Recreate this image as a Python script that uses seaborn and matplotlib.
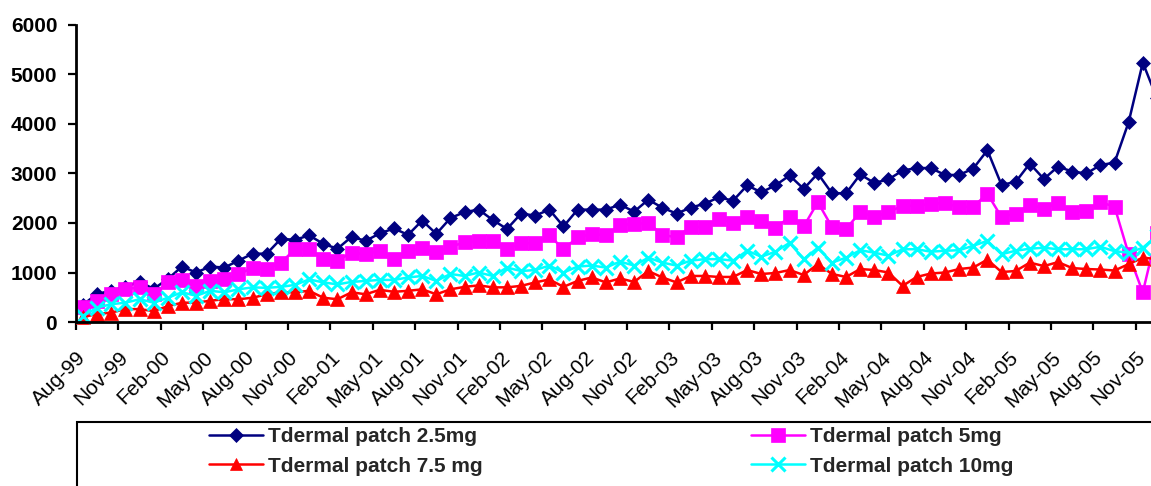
import matplotlib
matplotlib.use("Agg")
import matplotlib.pyplot as plt
import matplotlib.transforms as mtransforms
from matplotlib.lines import Line2D
from matplotlib.patches import Rectangle
import numpy as np
import pandas as pd
import seaborn as sns

# Monthly prescriptions by patch strength, Aug 1999 - Dec 2005
months = pd.date_range("1999-08-01", periods=77, freq="MS").strftime("%b-%y").tolist()

patch_2_5mg = [
    350, 570, 630, 710, 810, 670, 870, 1120, 1000, 1120, 1100, 1240, 1380, 1380,
    1680, 1660, 1750, 1580, 1480, 1720, 1640, 1790, 1890, 1760, 2050, 1780, 2100,
    2220, 2270, 2060, 1880, 2190, 2150, 2270, 1930, 2270, 2270, 2270, 2370, 2230,
    2470, 2310, 2190, 2310, 2390, 2520, 2450, 2760, 2620, 2760, 2960, 2690, 3000,
    2600, 2600, 2980, 2810, 2880, 3060, 3110, 3110, 2970, 2970, 3100, 3470, 2770,
    2830, 3200, 2890, 3140, 3040, 3000, 3170, 3220, 4040, 5240, 4520,
]
patch_5mg = [
    300, 430, 560, 660, 700, 560, 800, 850, 730, 830, 860, 960, 1100, 1070,
    1200, 1470, 1470, 1270, 1240, 1400, 1370, 1440, 1270, 1440, 1490, 1410, 1520,
    1610, 1630, 1640, 1470, 1590, 1590, 1750, 1470, 1710, 1780, 1750, 1960, 1980,
    2000, 1760, 1710, 1920, 1920, 2080, 2010, 2120, 2040, 1900, 2120, 1930, 2420,
    1920, 1880, 2220, 2120, 2220, 2350, 2350, 2390, 2400, 2320, 2330, 2590, 2120,
    2190, 2370, 2290, 2400, 2220, 2250, 2420, 2330, 1370, 600, 1800,
]
patch_7_5mg = [
    100, 160, 190, 260, 260, 220, 320, 390, 390, 430, 460, 460, 490, 560,
    600, 600, 630, 490, 460, 600, 560, 650, 610, 630, 660, 560, 660,
    710, 740, 700, 700, 730, 800, 860, 710, 830, 900, 800, 880, 810,
    1030, 900, 800, 930, 930, 910, 910, 1050, 970, 990, 1050, 950, 1170,
    970, 910, 1070, 1050, 1000, 730, 910, 980, 1000, 1070, 1100, 1260, 1010,
    1030, 1200, 1130, 1210, 1090, 1070, 1060, 1040, 1170, 1300, 1270,
]
patch_10mg = [
    130, 290, 360, 390, 460, 390, 490, 600, 530, 630, 600, 660, 700, 690,
    710, 750, 860, 800, 760, 810, 830, 850, 850, 900, 930, 830, 970,
    930, 1000, 930, 1100, 1030, 1050, 1140, 1000, 1120, 1140, 1100, 1220, 1140,
    1300, 1200, 1140, 1240, 1270, 1270, 1240, 1440, 1320, 1420, 1600, 1270, 1500,
    1200, 1300, 1450, 1400, 1340, 1470, 1470, 1420, 1440, 1450, 1540, 1640, 1370,
    1440, 1480, 1500, 1470, 1470, 1470, 1520, 1430, 1400, 1500, 1740,
]

series_labels = ["Tdermal patch 2.5mg", "Tdermal patch 5mg",
                 "Tdermal patch 7.5 mg", "Tdermal patch 10mg"]
series_values = [patch_2_5mg, patch_5mg, patch_7_5mg, patch_10mg]
y_ticks = [0, 1000, 2000, 3000, 4000, 5000, 6000]

colors = ["#000080", "#FF00FF", "#FF0000", "#00FFFF"]
markers = ["D", "s", "^", "x"]
msizes = [7.5, 10.5, 9.5, 10.0]
FS = 15

sns.set_style("white")
plt.rcParams["font.family"] = ["Liberation Sans", "DejaVu Sans"]

W, H = 1151, 486
fig = plt.figure(figsize=(W / 100, H / 100), dpi=100)

# plot area in pixel coordinates (extends past the right edge of the canvas)
ax_left, ax_right, ax_top, ax_bottom = 76, 1164, 25, 322
ax = fig.add_axes([ax_left / W, 1 - ax_bottom / H,
                   (ax_right - ax_left) / W, (ax_bottom - ax_top) / H])

x = np.arange(len(months))
for vals, lab, col, mk, ms in zip(series_values, series_labels, colors, markers, msizes):
    sns.lineplot(x=x, y=vals, ax=ax, color=col, marker=mk, markersize=ms,
                 markeredgecolor=col, markerfacecolor=col,
                 markeredgewidth=2.2 if mk == "x" else 0.5,
                 linewidth=1.8, label=lab, legend=False, sort=False,
                 clip_on=False)

ax.set_xlim(-0.5, len(months) - 0.5)
ax.set_ylim(0, 6000)
ax.set_yticks(y_ticks)
ax.set_yticklabels([str(v) for v in y_ticks], fontsize=FS, fontweight="bold")

tick_pos = np.arange(0, len(months), 3) - 0.5
ax.set_xticks(tick_pos)
ax.set_xticklabels([months[i] for i in range(0, len(months), 3)],
                   rotation=45, ha="right", va="top",
                   rotation_mode="anchor", fontsize=FS)
shift = mtransforms.ScaledTranslation(-7 / 100, 0, fig.dpi_scale_trans)
for t in ax.get_xticklabels():
    t.set_transform(t.get_transform() + shift)

ax.tick_params(axis="x", direction="out", length=6, width=1.6, pad=12.5,
               colors="black", bottom=True)
ax.tick_params(axis="y", direction="out", length=6, width=1.6, pad=7.5,
               colors="black", left=True)

for side in ["top", "right"]:
    ax.spines[side].set_visible(False)
for side in ["left", "bottom"]:
    ax.spines[side].set_linewidth(2.0)
    ax.spines[side].set_color("black")
ax.grid(False)

# legend: frame box drawn separately, entries laid out in two columns
fig.patches.append(Rectangle((77 / W, -0.2), 1.2, (1 - 422 / H) + 0.2,
                             transform=fig.transFigure, fill=False,
                             edgecolor="black", linewidth=1.5))
handles = [Line2D([], [], color=c, marker=m, markersize=s * 0.95,
                  markeredgecolor=c, markerfacecolor=c,
                  markeredgewidth=2.2 if m == "x" else 0.5, linewidth=1.8)
           for c, m, s in zip(colors, markers, msizes)]
order = [0, 2, 1, 3]
fig.legend([handles[i] for i in order], [series_labels[i] for i in order],
           ncol=2, loc="upper left", bbox_to_anchor=(209 / W, 1 - 427 / H),
           frameon=False, borderpad=0, borderaxespad=0,
           handlelength=2.59, handletextpad=0.24, columnspacing=12.9,
           labelspacing=0.51,
           prop={"size": FS, "weight": "bold"})

fig.savefig("out.png", dpi=100)
